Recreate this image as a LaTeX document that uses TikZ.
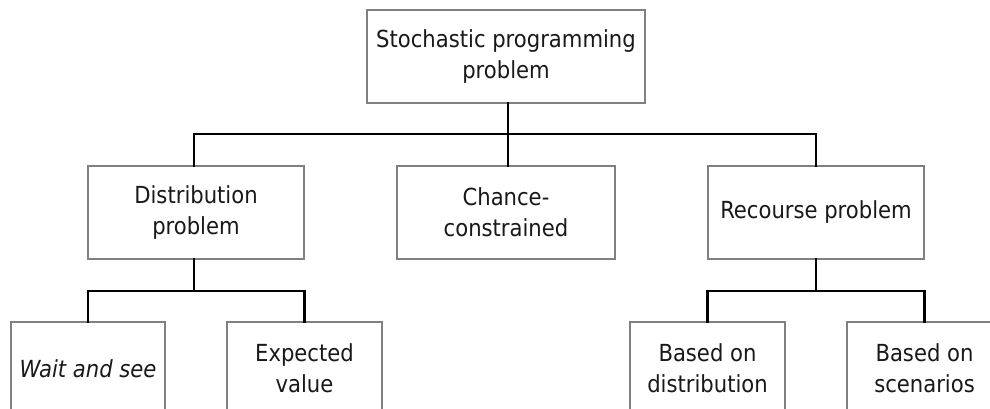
\documentclass[tikz,border=0pt]{standalone}
\usepackage{fontspec}
\setmainfont{DejaVu Sans Condensed}
\begin{document}
\begin{tikzpicture}[x=1pt,y=-1pt,
  box/.style={draw=black!50, line width=1.2pt, fill=white, align=center,
    minimum height=93pt, inner sep=0pt, text=black!90,
    font=\fontsize{23.5}{31}\selectfont},
  conn/.style={draw=black, line width=2.6pt, line cap=rect}]
\useasboundingbox (0,0) rectangle (990,409);
\clip (0,0) rectangle (990,409);

% junction points of the horizontal bars
\coordinate (bus) at (508,134);
\coordinate (dbus) at (194,291);
\coordinate (rbus) at (816,291);

% levels of the tree
\node[box, minimum width=278pt] (top) at (506,56.5) {Stochastic programming\\problem};
\node[box, minimum width=216pt] (dist) at (196,212.5) {Distribution\\problem};
\node[box, minimum width=218pt] (chance) at (506,212.5) {Chance-\\constrained};
\node[box, minimum width=216pt] (rec) at (816,212.5) {Recourse problem};

\node[box, minimum width=154pt] (wait) at (88,368.5) {\itshape Wait and see};
\node[box, minimum width=155pt] (exp) at (304.5,368.5) {Expected\\value};
\node[box, minimum width=155pt] (bdist) at (707.5,368.5) {Based on\\distribution};
\node[box, minimum width=155pt] (bscen) at (924.5,368.5) {Based on\\scenarios};

% connectors
\draw[conn] (top.south -| bus) -- (chance.north -| bus);
\draw[conn] (dist.north -| dbus) |- (bus) -| (rec.north);
\draw[conn] (dist.south -| dbus) -- (dbus);
\draw[conn] (wait.north) |- (dbus) -| (exp.north);
\draw[conn] (rec.south) -- (rbus);
\draw[conn] (bdist.north) |- (rbus) -| (bscen.north);
\end{tikzpicture}
\end{document}
